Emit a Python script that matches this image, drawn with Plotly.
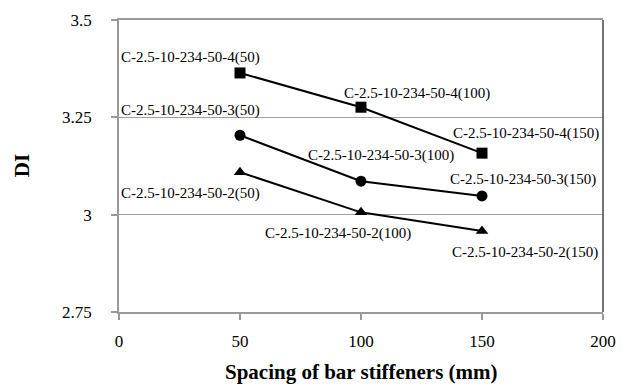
import plotly.graph_objects as go

spacing = [50, 100, 150]
di_4 = [3.364, 3.276, 3.158]
di_3 = [3.204, 3.086, 3.048]
di_2 = [3.109, 3.006, 2.958]
labels_4 = ["C-2.5-10-234-50-4(50)", "C-2.5-10-234-50-4(100)", "C-2.5-10-234-50-4(150)"]
labels_3 = ["C-2.5-10-234-50-3(50)", "C-2.5-10-234-50-3(100)", "C-2.5-10-234-50-3(150)"]
labels_2 = ["C-2.5-10-234-50-2(50)", "C-2.5-10-234-50-2(100)", "C-2.5-10-234-50-2(150)"]
x_ticks = [0, 50, 100, 150, 200]
y_ticks = [2.75, 3.0, 3.25, 3.5]
y_tick_text = ["2.75", "3", "3.25", "3.5"]
x_title = "Spacing of bar stiffeners (mm)"
y_title = "DI"

serif = "Liberation Serif, serif"

fig = go.Figure()
series = [(di_4, "square", 11, labels_4, [(-50, 15), (56, 14), (44, 20)]),
          (di_3, "circle", 11, labels_3, [(-50, 25), (20, 26), (41, 16)]),
          (di_2, "triangle-up", 11, labels_2, [(-50, -21), (-23, -21), (43, -21)])]

annotations = []
for ys, sym, size, labs, offs in series:
    fig.add_trace(go.Scatter(x=spacing, y=ys, mode="lines+markers",
                             line=dict(color="black", width=2),
                             marker=dict(symbol=sym, size=size, color="black"),
                             showlegend=False))
    for xv, yv, lab, (dx, dy) in zip(spacing, ys, labs, offs):
        annotations.append(dict(x=xv, y=yv, text=lab, showarrow=False,
                                xshift=dx, yshift=dy, xanchor="center", yanchor="middle",
                                font=dict(family=serif, size=15, color="black")))

annotations.append(dict(xref="paper", yref="paper", x=0.5, y=-0.205,
                        text="<b>" + x_title + "</b>", showarrow=False,
                        xanchor="center", yanchor="middle",
                        font=dict(family=serif, size=21, color="black")))
annotations.append(dict(xref="paper", yref="paper", x=-0.2, y=0.5,
                        text="<b>" + y_title + "</b>", showarrow=False, textangle=-90,
                        xanchor="center", yanchor="middle",
                        font=dict(family=serif, size=21, color="black")))

fig.update_layout(
    width=629, height=386,
    margin=dict(l=119, r=26, t=20, b=74),
    paper_bgcolor="white", plot_bgcolor="white",
    font=dict(family=serif, color="black"),
    annotations=annotations,
    shapes=[dict(type="line", xref="paper", yref="paper", x0=1, x1=1, y0=0, y1=1,
                 line=dict(color="#444444", width=1.5))],
    xaxis=dict(range=[0, 200], tickvals=x_ticks, showgrid=False, zeroline=False,
               showline=True, mirror=True, linecolor="#999999", linewidth=1.5,
               ticks="outside", ticklen=6, tickcolor="#999999", tickwidth=1.5,
               ticklabelstandoff=7, automargin=False,
               tickfont=dict(family=serif, size=17, color="black")),
    yaxis=dict(range=[2.75, 3.5], tickvals=y_ticks, ticktext=y_tick_text,
               showgrid=True, gridcolor="#a0a0a0", gridwidth=1.2, zeroline=False,
               showline=True, linecolor="#999999", linewidth=1.5,
               ticks="outside", ticklen=6, tickcolor="#999999", tickwidth=1.5,
               ticklabelstandoff=16, automargin=False,
               tickfont=dict(family=serif, size=17, color="black")),
)

fig.write_html("out.html", config={"displayModeBar": False},
               post_script="document.body.style.margin='0';")
